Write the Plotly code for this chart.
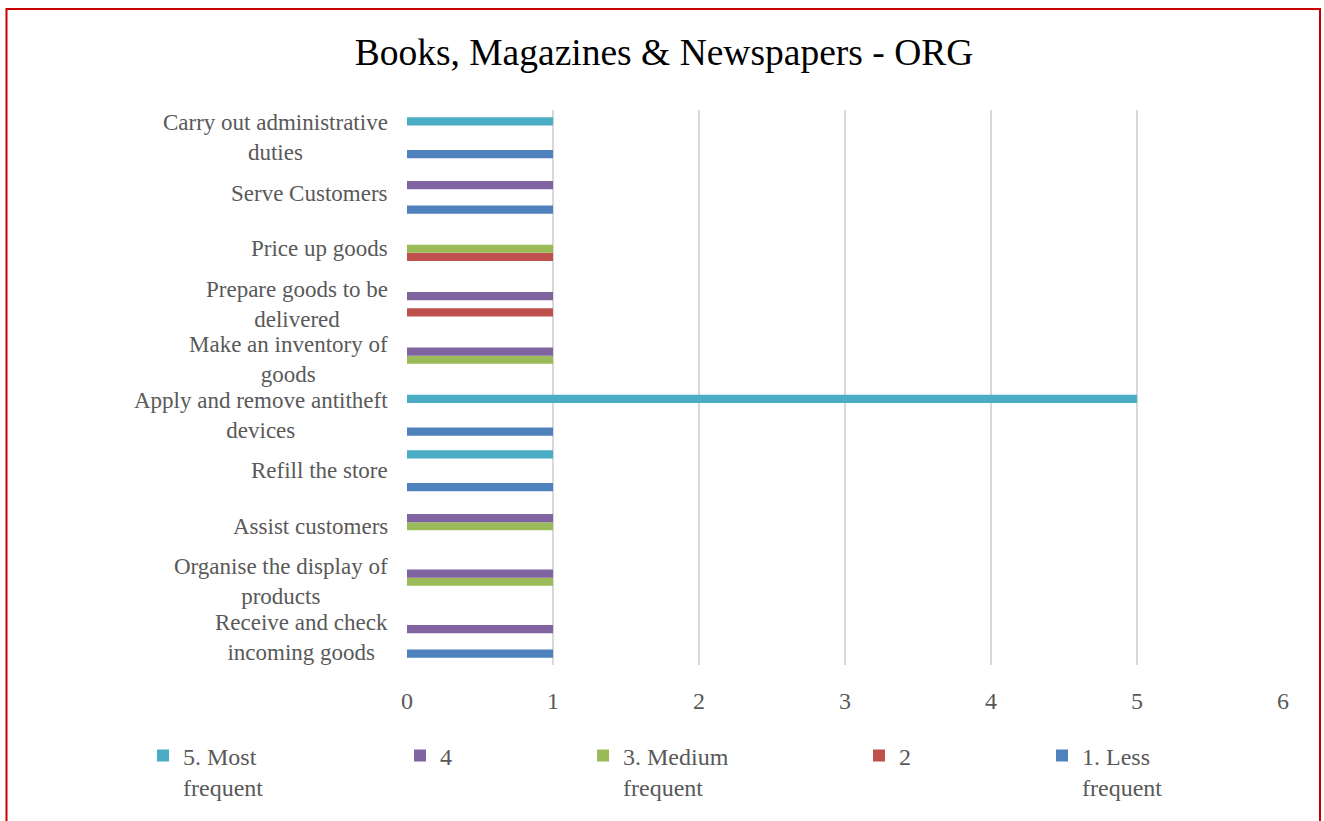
import plotly.graph_objects as go

# Categories listed bottom to top
categories = [
    "Receive and check<br>incoming goods",
    "Organise the display of<br>products",
    "Assist customers",
    "Refill the store",
    "Apply and remove antitheft<br>devices",
    "Make an inventory of<br>goods",
    "Prepare goods to be<br>delivered",
    "Price up goods",
    "Serve Customers",
    "Carry out administrative<br>duties",
]

less_frequent = [1, 0, 0, 1, 1, 0, 0, 0, 1, 1]      # 1. Less frequent
freq_2 = [0, 0, 0, 0, 0, 0, 1, 1, 0, 0]             # 2
medium_frequent = [0, 1, 1, 0, 0, 1, 0, 1, 0, 0]    # 3. Medium frequent
freq_4 = [1, 1, 1, 0, 0, 1, 1, 0, 1, 0]             # 4
most_frequent = [0, 0, 0, 1, 5, 0, 0, 0, 0, 1]      # 5. Most frequent

series_names = ["1. Less<br>frequent", "2", "3. Medium<br>frequent", "4", "5. Most<br>frequent"]
series_values = [less_frequent, freq_2, medium_frequent, freq_4, most_frequent]
series_colors = ["#4F81BD", "#C0504D", "#9BBB59", "#8064A2", "#4BACC6"]
legend_ids = ["legend5", "legend4", "legend3", "legend2", "legend"]
x_ticks = [0, 1, 2, 3, 4, 5, 6]

W, H = 1324, 821
PL, PR, PT, PB = 407, 1283, 110, 670   # plot box in px
pw, ph = PR - PL, PB - PT

def px_x(p):
    return (p - PL) / pw

def px_y(p):
    return (PB - p) / ph

FONT = "Liberation Serif"
GRAY = "#595959"

fig = go.Figure()
ids = list(range(len(categories)))
for name, vals, col, lg in zip(series_names, series_values, series_colors, legend_ids):
    fig.add_trace(go.Bar(
        y=ids, x=vals, name=name, orientation="h",
        marker=dict(color=col, line=dict(width=0)),
        legend=lg, showlegend=True,
    ))

# legend positions (symbol left edges in px)
legend_left_px = {"legend": 161, "legend2": 418, "legend3": 601, "legend4": 877, "legend5": 1060}
legend_layout = {}
for lg, lx in legend_left_px.items():
    legend_layout[lg] = dict(
        x=px_x(lx - 18), y=px_y(739), xanchor="left", yanchor="top",
        orientation="h", valign="top", bgcolor="rgba(0,0,0,0)",
        font=dict(family=FONT, size=24, color=GRAY),
    )

annotations = []
for i, c in enumerate(categories):
    annotations.append(dict(
        x=0, xref="paper", y=i, yref="y", text=c, showarrow=False,
        xanchor="right", yanchor="middle", align="center", xshift=-17,
        font=dict(family=FONT, size=23, color=GRAY),
    ))

fig.update_layout(
    width=W, height=H,
    margin=dict(l=PL, r=W - PR, t=PT, b=H - PB),
    paper_bgcolor="white", plot_bgcolor="white",
    showlegend=True,
    barmode="group", bargap=0.26, bargroupgap=0,
    title=dict(text="Books, Magazines & Newspapers - ORG", x=664 / W, xref="container",
               y=1 - 52 / H, yref="container", xanchor="center", yanchor="middle",
               font=dict(family=FONT, size=37.5, color="black")),
    xaxis=dict(range=[0, 6], tickvals=x_ticks, showgrid=True, gridcolor="#D9D9D9",
               gridwidth=1.5, zeroline=False, showline=False, ticks="",
               tickfont=dict(family=FONT, size=24, color=GRAY), ticklabelstandoff=19,
               fixedrange=True),
    yaxis=dict(range=[-0.5, len(categories) - 0.5], showticklabels=False, showgrid=False,
               zeroline=False, showline=False, ticks="", fixedrange=True),
    annotations=annotations,
    shapes=[dict(type="rect", xref="paper", yref="paper",
                 x0=px_x(6.5), x1=px_x(1320), y0=px_y(835), y1=px_y(8),
                 line=dict(color="#CC0000", width=2), fillcolor="rgba(0,0,0,0)")],
    **legend_layout,
)

fig.write_html(
    "out.html",
    config={"displayModeBar": False},
    post_script="document.body.style.margin='0';document.documentElement.style.overflow='hidden';",
)
